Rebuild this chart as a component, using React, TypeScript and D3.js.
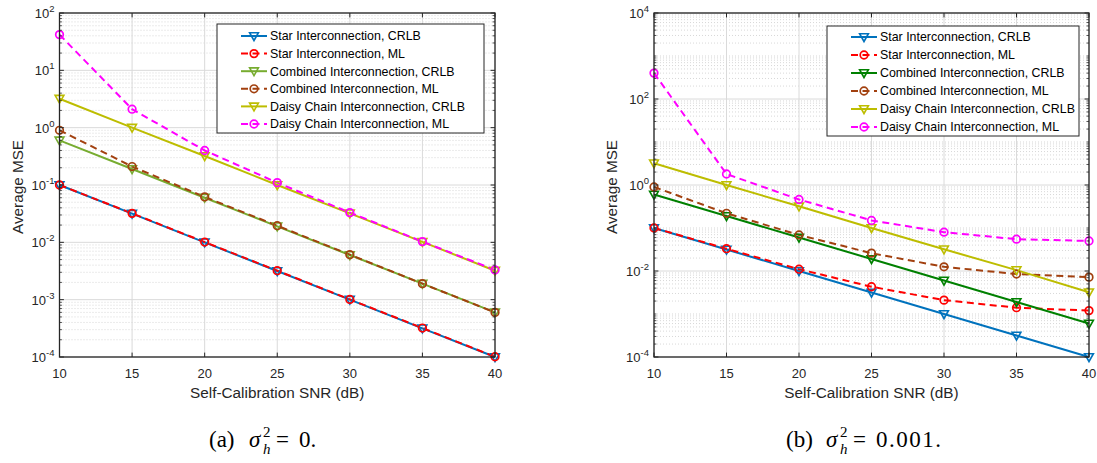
import React from 'react';
import * as d3 from 'd3';

// ---------- DATA ----------
const snr = [10, 15, 20, 25, 30, 35, 40];
const xTicks = [10, 15, 20, 25, 30, 35, 40];
const seriesNames = [
  'Star Interconnection, CRLB',
  'Star Interconnection, ML',
  'Combined Interconnection, CRLB',
  'Combined Interconnection, ML',
  'Daisy Chain Interconnection, CRLB',
  'Daisy Chain Interconnection, ML',
];

// panel (a): sigma_h^2 = 0
const aStarCrlb = [0.1, 0.0316, 0.01, 0.00316, 0.001, 0.000316, 0.0001];
const aStarMl = [0.1, 0.032, 0.0101, 0.0032, 0.00101, 0.00032, 0.000101];
const aCombCrlb = [0.6, 0.19, 0.06, 0.019, 0.006, 0.0019, 0.0006];
const aCombMl = [0.9, 0.21, 0.062, 0.0195, 0.0061, 0.0019, 0.0006];
const aDaisyCrlb = [3.2, 1.0, 0.32, 0.1, 0.032, 0.0102, 0.0032];
const aDaisyMl = [42, 2.1, 0.4, 0.11, 0.033, 0.0103, 0.0033];
const aYExps = [-4, -3, -2, -1, 0, 1, 2];

// panel (b): sigma_h^2 = 0.001
const bStarCrlb = [0.1, 0.0316, 0.01, 0.00316, 0.001, 0.000316, 0.0001];
const bStarMl = [0.1, 0.033, 0.011, 0.0043, 0.0021, 0.0014, 0.0012];
const bCombCrlb = [0.6, 0.19, 0.06, 0.019, 0.006, 0.0019, 0.0006];
const bCombMl = [0.9, 0.22, 0.069, 0.026, 0.0125, 0.0085, 0.0072];
const bDaisyCrlb = [3.2, 1.0, 0.32, 0.1, 0.032, 0.0105, 0.0032];
const bDaisyMl = [400, 1.8, 0.46, 0.15, 0.08, 0.055, 0.05];
const bYExps = [-4, -2, 0, 2, 4];

// ---------- STYLES ----------
const colorsA = ['#0072BD', '#FF0000', '#77AC30', '#A2400F', '#BDBD00', '#FF00FF'];
const colorsB = ['#0072BD', '#FF0000', '#008000', '#A2400F', '#BDBD00', '#FF00FF'];
const dashed = [false, true, false, true, false, true];
const markers = ['tri', 'circ', 'tri', 'circ', 'tri', 'circ'];

const FONT = '"Liberation Sans", Arial, Helvetica, sans-serif';
const SERIF = '"Liberation Serif", "DejaVu Serif", serif';
const AX = '#262626';

function Marker({ kind, cx, cy, color }: { kind: string; cx: number; cy: number; color: string }) {
  if (kind === 'tri') {
    return (
      <path
        d={`M${cx - 4.4},${cy - 3.3}L${cx + 4.4},${cy - 3.3}L${cx},${cy + 4.5}Z`}
        fill="none"
        stroke={color}
        strokeWidth={1.6}
      />
    );
  }
  return <circle cx={cx} cy={cy} r={3.8} fill="none" stroke={color} strokeWidth={1.7} />;
}

type PanelProps = {
  x0: number; x1: number; y0: number; y1: number;
  yMin: number; yMax: number; labelExps: number[];
  data: number[][]; colors: string[];
  legend: { lx: number; ly: number; lw: number; lh: number; row0: number; rowH: number };
  ylabelX: number;
};

function Panel({ x0, x1, y0, y1, yMin, yMax, labelExps, data, colors, legend, ylabelX }: PanelProps) {
  const x = d3.scaleLinear().domain([10, 40]).range([x0, x1]);
  const y = d3.scaleLog().domain([yMin, yMax]).range([y1, y0]);
  const line = d3
    .line<number>()
    .x((_, i) => x(snr[i]))
    .y((d) => y(d));

  const eMin = Math.round(Math.log10(yMin));
  const eMax = Math.round(Math.log10(yMax));
  const minor: number[] = [];
  for (let e = eMin; e < eMax; e++) {
    for (let k = 1; k <= 9; k++) {
      if (k === 1 && labelExps.includes(e)) continue;
      minor.push(k * Math.pow(10, e));
    }
  }
  const majorTick = 4.4;
  const minorTick = 2.4;

  return (
    <g>
      {/* minor grid */}
      {minor.map((v, i) => (
        <line key={'mg' + i} x1={x0} x2={x1} y1={y(v)} y2={y(v)} stroke="#bdbdbd" strokeWidth={0.6} strokeDasharray="1 2" />
      ))}
      {/* major grid */}
      {labelExps.map((e) => (
        <line key={'gy' + e} x1={x0} x2={x1} y1={y(Math.pow(10, e))} y2={y(Math.pow(10, e))} stroke="#dadada" strokeWidth={1} />
      ))}
      {xTicks.map((t) => (
        <line key={'gx' + t} x1={x(t)} x2={x(t)} y1={y0} y2={y1} stroke="#dadada" strokeWidth={1} />
      ))}
      {/* data */}
      {data.map((vals, si) => (
        <path
          key={'l' + si}
          d={line(vals) || ''}
          fill="none"
          stroke={colors[si]}
          strokeWidth={2}
          strokeDasharray={dashed[si] ? '7 4.5' : undefined}
        />
      ))}
      {data.map((vals, si) =>
        vals.map((v, i) => <Marker key={'m' + si + '-' + i} kind={markers[si]} cx={x(snr[i])} cy={y(v)} color={colors[si]} />)
      )}
      {/* axes box */}
      <rect x={x0} y={y0} width={x1 - x0} height={y1 - y0} fill="none" stroke={AX} strokeWidth={1.3} />
      {xTicks.map((t) => (
        <g key={'xt' + t}>
          <line x1={x(t)} x2={x(t)} y1={y1} y2={y1 - majorTick} stroke={AX} />
          <line x1={x(t)} x2={x(t)} y1={y0} y2={y0 + majorTick} stroke={AX} />
          <text x={x(t)} y={y1 + 21} textAnchor="middle" fontSize={13} fill={AX} fontFamily={FONT}>
            {t}
          </text>
        </g>
      ))}
      {labelExps.map((e) => {
        const yy = y(Math.pow(10, e));
        return (
          <g key={'yt' + e}>
            <line x1={x0} x2={x0 + majorTick} y1={yy} y2={yy} stroke={AX} />
            <line x1={x1} x2={x1 - majorTick} y1={yy} y2={yy} stroke={AX} />
            <text x={x0 - 5} y={yy + 5} textAnchor="end" fontSize={13} fill={AX} fontFamily={FONT}>
              10
              <tspan fontSize={9.5} dy={-6}>
                {e}
              </tspan>
            </text>
          </g>
        );
      })}
      {minor.map((v, i) => (
        <g key={'mt' + i}>
          <line x1={x0} x2={x0 + minorTick} y1={y(v)} y2={y(v)} stroke={AX} strokeWidth={0.8} />
          <line x1={x1} x2={x1 - minorTick} y1={y(v)} y2={y(v)} stroke={AX} strokeWidth={0.8} />
        </g>
      ))}
      {/* axis labels */}
      <text x={(x0 + x1) / 2} y={y1 + 41} textAnchor="middle" fontSize={15.3} fill={AX} fontFamily={FONT}>
        Self-Calibration SNR (dB)
      </text>
      <text
        transform={`translate(${ylabelX},${(y0 + y1) / 2 + 2}) rotate(-90)`}
        textAnchor="middle"
        fontSize={15.3}
        fill={AX}
        fontFamily={FONT}
      >
        Average MSE
      </text>
      {/* legend */}
      <rect x={legend.lx} y={legend.ly} width={legend.lw} height={legend.lh} fill="#fff" stroke={AX} strokeWidth={1} />
      {seriesNames.map((name, si) => {
        const ry = legend.row0 + si * legend.rowH;
        const sx = legend.lx + 24;
        return (
          <g key={'lg' + si}>
            <line
              x1={sx}
              x2={sx + 26}
              y1={ry}
              y2={ry}
              stroke={colors[si]}
              strokeWidth={2}
              strokeDasharray={dashed[si] ? '7 4.5' : undefined}
            />
            <Marker kind={markers[si]} cx={sx + 13} cy={ry} color={colors[si]} />
            <text x={sx + 29} y={ry + 4.4} fontSize={12.4} fill="#000" fontFamily={FONT}>
              {name}
            </text>
          </g>
        );
      })}
    </g>
  );
}

function Caption({ x, y, label, value, spacing }: { x: number; y: number; label: string; value: string; spacing: number }) {
  return (
    <g fontFamily={SERIF} fill="#000">
      <text x={x} y={y} fontSize={23}>{label}</text>
      <text x={x + 40} y={y} fontSize={23} fontStyle="italic">σ</text>
      <text x={x + 54} y={y - 10} fontSize={15}>2</text>
      <text x={x + 54} y={y + 7} fontSize={15} fontStyle="italic">h</text>
      <text x={x + 67} y={y} fontSize={23}>=</text>
      <text x={x + 90} y={y} fontSize={23} letterSpacing={spacing}>{value}</text>
    </g>
  );
}

export default function App() {
  const dataA = [aStarCrlb, aStarMl, aCombCrlb, aCombMl, aDaisyCrlb, aDaisyMl];
  const dataB = [bStarCrlb, bStarMl, bCombCrlb, bCombMl, bDaisyCrlb, bDaisyMl];
  return (
    <svg
      width={1097}
      height={463}
      style={{ position: 'absolute', left: 0, top: 0, background: '#fff' }}
    >
      <rect width={1097} height={463} fill="#fff" />
      <Panel
        x0={59.5}
        x1={495}
        y0={13}
        y1={357}
        yMin={1e-4}
        yMax={1e2}
        labelExps={aYExps}
        data={dataA}
        colors={colorsA}
        legend={{ lx: 217, ly: 24, lw: 267, lh: 109, row0: 36, rowH: 17.6 }}
        ylabelX={23}
      />
      <Panel
        x0={654}
        x1={1089}
        y0={13}
        y1={357}
        yMin={1e-4}
        yMax={1e4}
        labelExps={bYExps}
        data={dataB}
        colors={colorsB}
        legend={{ lx: 827, ly: 26, lw: 252, lh: 110, row0: 37, rowH: 18 }}
        ylabelX={617}
      />
      <Caption x={209} y={447} label="(a)" value="0." spacing={0} />
      <Caption x={786} y={447} label="(b)" value="0.001." spacing={1.5} />
    </svg>
  );
}
